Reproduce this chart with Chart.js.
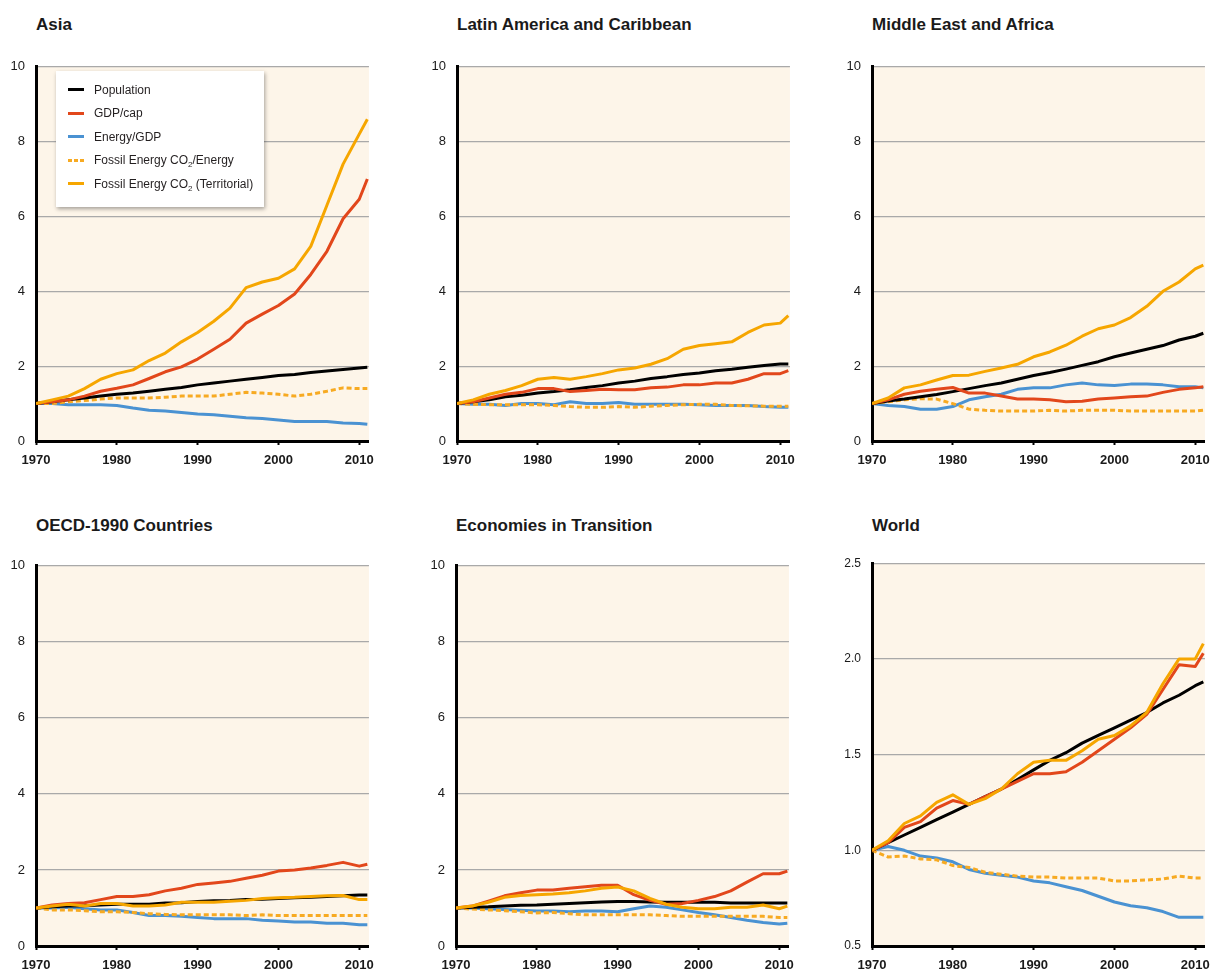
<!DOCTYPE html>
<html>
<head>
<meta charset="utf-8">
<title>Kaya decomposition by region</title>
<script src="https://cdn.jsdelivr.net/npm/chart.js@4.4.1/dist/chart.umd.min.js"></script>
<style>
  html, body { margin: 0; padding: 0; background: #fff; overflow: hidden; }
  body { width: 1213px; height: 972px; position: relative; font-family: "Liberation Sans", Arial, sans-serif; color: #1a1a1a; }
  .title { position: absolute; font-weight: bold; font-size: 17px; line-height: 20px; white-space: nowrap; }
  canvas { position: absolute; }
  #legend {
    position: absolute; left: 56px; top: 71px; width: 208px; height: 136px;
    background: #fff; box-shadow: 1px 2px 4px rgba(0,0,0,0.35);
    box-sizing: border-box; padding-top: 8px; font-size: 12px; color: #231f20;
  }
  #legend .item { height: 23.4px; line-height: 23.4px; padding-left: 12px; white-space: nowrap; }
  #legend .swatch { display: inline-block; width: 16px; height: 3px; vertical-align: middle; margin-right: 10px; position: relative; top: -1px; }
  #legend sub { font-size: 8px; line-height: 0; vertical-align: -3px; }
</style>
</head>
<body>
<div id="legend"></div>
<script>
// years on the x axis (2-year steps, last point 2011)
const years = [1970, 1972, 1974, 1976, 1978, 1980, 1982, 1984, 1986, 1988, 1990,
               1992, 1994, 1996, 1998, 2000, 2002, 2004, 2006, 2008, 2010, 2011];
const xTicks = [1970, 1980, 1990, 2000, 2010];

const seriesNames = ['Population', 'GDP/cap', 'Energy/GDP', 'Fossil Energy CO₂/Energy', 'Fossil Energy CO₂ (Territorial)'];
const legendLabels = ['Population', 'GDP/cap', 'Energy/GDP', 'Fossil Energy CO<sub>2</sub>/Energy', 'Fossil Energy CO<sub>2</sub> (Territorial)'];

// Asia
const asiaPop     = [1.0, 1.05, 1.1, 1.15, 1.2, 1.25, 1.28, 1.33, 1.38, 1.43, 1.5, 1.55, 1.6, 1.65, 1.7, 1.75, 1.78, 1.83, 1.87, 1.91, 1.95, 1.97];
const asiaGdp     = [1.0, 1.05, 1.1, 1.2, 1.33, 1.41, 1.5, 1.67, 1.85, 1.98, 2.19, 2.45, 2.72, 3.15, 3.39, 3.62, 3.93, 4.45, 5.07, 5.94, 6.46, 7.0];
const asiaEnergy  = [1.0, 1.0, 0.97, 0.97, 0.97, 0.95, 0.88, 0.82, 0.8, 0.76, 0.72, 0.7, 0.66, 0.62, 0.6, 0.56, 0.52, 0.52, 0.52, 0.48, 0.47, 0.45];
const asiaCarbInt = [1.0, 1.0, 1.05, 1.08, 1.12, 1.15, 1.15, 1.15, 1.17, 1.2, 1.2, 1.2, 1.25, 1.3, 1.28, 1.25, 1.2, 1.25, 1.33, 1.42, 1.4, 1.4];
const asiaCO2     = [1.0, 1.1, 1.2, 1.4, 1.65, 1.8, 1.9, 2.15, 2.35, 2.65, 2.9, 3.2, 3.55, 4.1, 4.25, 4.35, 4.6, 5.2, 6.3, 7.4, 8.2, 8.6];

// Latin America and Caribbean
const laPop     = [1.0, 1.05, 1.1, 1.18, 1.22, 1.28, 1.32, 1.37, 1.43, 1.48, 1.55, 1.6, 1.67, 1.72, 1.78, 1.82, 1.88, 1.92, 1.97, 2.02, 2.06, 2.06];
const laGdp     = [1.0, 1.05, 1.15, 1.25, 1.3, 1.4, 1.4, 1.32, 1.35, 1.38, 1.37, 1.37, 1.42, 1.44, 1.5, 1.5, 1.55, 1.55, 1.65, 1.8, 1.8, 1.88];
const laEnergy  = [1.0, 0.98, 0.98, 0.95, 1.0, 1.0, 0.97, 1.05, 1.0, 1.0, 1.03, 0.98, 0.98, 0.98, 0.98, 0.97, 0.95, 0.95, 0.95, 0.92, 0.9, 0.9];
const laCarbInt = [1.0, 0.98, 0.97, 0.97, 0.97, 0.97, 0.95, 0.92, 0.9, 0.9, 0.92, 0.9, 0.93, 0.95, 0.97, 0.98, 0.98, 0.95, 0.94, 0.93, 0.93, 0.93];
const laCO2     = [1.0, 1.1, 1.25, 1.35, 1.48, 1.65, 1.7, 1.65, 1.72, 1.8, 1.9, 1.95, 2.05, 2.2, 2.45, 2.55, 2.6, 2.65, 2.9, 3.1, 3.15, 3.35];

// Middle East and Africa
const meaPop     = [1.0, 1.07, 1.12, 1.18, 1.24, 1.32, 1.4, 1.48, 1.55, 1.65, 1.75, 1.83, 1.92, 2.02, 2.12, 2.25, 2.35, 2.45, 2.55, 2.7, 2.8, 2.88];
const meaGdp     = [1.0, 1.1, 1.25, 1.33, 1.38, 1.43, 1.28, 1.28, 1.2, 1.12, 1.12, 1.1, 1.05, 1.06, 1.12, 1.15, 1.18, 1.2, 1.3, 1.38, 1.42, 1.45];
const meaEnergy  = [1.0, 0.95, 0.92, 0.85, 0.85, 0.92, 1.1, 1.18, 1.25, 1.38, 1.42, 1.42, 1.5, 1.55, 1.5, 1.48, 1.52, 1.52, 1.5, 1.45, 1.45, 1.42];
const meaCarbInt = [1.0, 1.05, 1.1, 1.13, 1.12, 1.0, 0.85, 0.82, 0.8, 0.8, 0.8, 0.82, 0.8, 0.82, 0.82, 0.82, 0.8, 0.8, 0.8, 0.8, 0.8, 0.82];
const meaCO2     = [1.0, 1.15, 1.42, 1.5, 1.63, 1.75, 1.76, 1.86, 1.95, 2.05, 2.25, 2.38, 2.56, 2.8, 3.0, 3.1, 3.3, 3.6, 4.0, 4.25, 4.6, 4.7];

// OECD-1990 Countries
const oecdPop     = [1.0, 1.03, 1.05, 1.06, 1.08, 1.1, 1.1, 1.1, 1.13, 1.14, 1.17, 1.19, 1.2, 1.22, 1.23, 1.25, 1.27, 1.28, 1.3, 1.32, 1.34, 1.34];
const oecdGdp     = [1.0, 1.08, 1.12, 1.14, 1.22, 1.3, 1.3, 1.35, 1.45, 1.52, 1.62, 1.66, 1.7, 1.78, 1.86, 1.97, 2.0, 2.05, 2.12, 2.2, 2.1, 2.15];
const oecdEnergy  = [1.0, 1.0, 1.02, 0.98, 0.95, 0.95, 0.88, 0.8, 0.8, 0.78, 0.75, 0.72, 0.72, 0.72, 0.68, 0.66, 0.63, 0.63, 0.6, 0.6, 0.56, 0.56];
const oecdCarbInt = [1.0, 0.95, 0.95, 0.93, 0.9, 0.9, 0.88, 0.85, 0.83, 0.82, 0.82, 0.82, 0.82, 0.8, 0.82, 0.8, 0.8, 0.8, 0.8, 0.8, 0.8, 0.8];
const oecdCO2     = [1.0, 1.05, 1.1, 1.05, 1.12, 1.12, 1.05, 1.05, 1.08, 1.15, 1.15, 1.15, 1.18, 1.2, 1.25, 1.27, 1.28, 1.3, 1.32, 1.33, 1.22, 1.22];

// Economies in Transition
const eitPop     = [1.0, 1.02, 1.03, 1.05, 1.07, 1.08, 1.1, 1.12, 1.14, 1.16, 1.17, 1.17, 1.16, 1.15, 1.15, 1.15, 1.15, 1.13, 1.13, 1.13, 1.13, 1.13];
const eitGdp     = [1.0, 1.05, 1.18, 1.32, 1.4, 1.47, 1.47, 1.52, 1.56, 1.6, 1.6, 1.35, 1.2, 1.1, 1.12, 1.2, 1.3, 1.45, 1.68, 1.9, 1.9, 1.97];
const eitEnergy  = [1.0, 1.0, 0.98, 0.96, 0.94, 0.92, 0.92, 0.9, 0.92, 0.92, 0.9, 0.98, 1.05, 1.02, 0.95, 0.88, 0.82, 0.75, 0.68, 0.62, 0.58, 0.6];
const eitCarbInt = [1.0, 0.97, 0.95, 0.93, 0.9, 0.87, 0.88, 0.85, 0.82, 0.82, 0.82, 0.82, 0.82, 0.8, 0.78, 0.78, 0.78, 0.78, 0.78, 0.78, 0.75, 0.75];
const eitCO2     = [1.0, 1.05, 1.15, 1.28, 1.33, 1.35, 1.37, 1.4, 1.45, 1.52, 1.55, 1.45, 1.25, 1.1, 1.02, 0.98, 0.98, 1.02, 1.02, 1.08, 0.98, 1.05];

// World
const worldPop     = [1.0, 1.04, 1.08, 1.12, 1.16, 1.2, 1.24, 1.28, 1.32, 1.37, 1.42, 1.47, 1.51, 1.56, 1.6, 1.64, 1.68, 1.72, 1.77, 1.81, 1.86, 1.88];
const worldGdp     = [1.0, 1.04, 1.12, 1.15, 1.22, 1.26, 1.24, 1.28, 1.32, 1.36, 1.4, 1.4, 1.41, 1.46, 1.52, 1.58, 1.64, 1.71, 1.84, 1.97, 1.96, 2.03];
const worldEnergy  = [1.0, 1.02, 1.0, 0.97, 0.96, 0.94, 0.9, 0.88, 0.87, 0.86, 0.84, 0.83, 0.81, 0.79, 0.76, 0.73, 0.71, 0.7, 0.68, 0.65, 0.65, 0.65];
const worldCarbInt = [1.0, 0.965, 0.97, 0.955, 0.95, 0.92, 0.91, 0.885, 0.875, 0.865, 0.86, 0.86, 0.855, 0.855, 0.855, 0.84, 0.84, 0.845, 0.85, 0.865, 0.855, 0.855];
const worldCO2     = [1.0, 1.05, 1.14, 1.18, 1.25, 1.29, 1.24, 1.27, 1.32, 1.4, 1.46, 1.47, 1.47, 1.52, 1.58, 1.6, 1.65, 1.72, 1.87, 2.0, 2.0, 2.08];

// styles
const seriesColors = ['#000000', '#e2471b', '#4a92d2', '#f7aa22', '#f6a600'];
const drawOrder = [3, 2, 5, 4, 1];
const plotColor = '#fdf5e9';

// axisX / plotTop: pixel position of the plot's left axis and top edge
const panels = [
  { title: 'Asia', series: [asiaPop, asiaGdp, asiaEnergy, asiaCarbInt, asiaCO2], axisX: 36, plotTop: 58, plotH: 383, titleTop: 15 },
  { title: 'Latin America and Caribbean', series: [laPop, laGdp, laEnergy, laCarbInt, laCO2], axisX: 457, plotTop: 58, plotH: 383, titleTop: 15 },
  { title: 'Middle East and Africa', series: [meaPop, meaGdp, meaEnergy, meaCarbInt, meaCO2], axisX: 872, plotTop: 58, plotH: 383, titleTop: 15 },
  { title: 'OECD-1990 Countries', series: [oecdPop, oecdGdp, oecdEnergy, oecdCarbInt, oecdCO2], axisX: 36, plotTop: 557, plotH: 389, titleTop: 516 },
  { title: 'Economies in Transition', series: [eitPop, eitGdp, eitEnergy, eitCarbInt, eitCO2], axisX: 456, plotTop: 557, plotH: 389, titleTop: 516 },
  { title: 'World', series: [worldPop, worldGdp, worldEnergy, worldCarbInt, worldCO2], axisX: 872, plotTop: 555, plotH: 391, titleTop: 516,
    yMin: 0.5, yMax: 2.5, yStep: 0.5, yFont: 12 }
];

Chart.defaults.font.family = "'Liberation Sans', Arial, sans-serif";
Chart.defaults.color = '#1a1a1a';

const plotBg = {
  id: 'plotBg',
  beforeDraw(chart) {
    const a = chart.chartArea;
    const c = chart.ctx;
    c.save();
    c.fillStyle = plotColor;
    c.fillRect(a.left, a.top, a.right - a.left, a.bottom - a.top);
    c.restore();
  }
};

const PLOT_W = 336, Y_AXIS_W = 36, X_AXIS_H = 32, PAD_TOP = 10, PAD_RIGHT = 10;

function makePanel(p) {
  const t = document.createElement('div');
  t.className = 'title';
  t.textContent = p.title;
  t.style.left = p.axisX + 'px';
  t.style.top = p.titleTop + 'px';
  document.body.appendChild(t);

  const canvas = document.createElement('canvas');
  canvas.width = Y_AXIS_W + PLOT_W + PAD_RIGHT;
  canvas.height = PAD_TOP + p.plotH + X_AXIS_H;
  canvas.style.left = (p.axisX - Y_AXIS_W) + 'px';
  canvas.style.top = (p.plotTop - PAD_TOP) + 'px';
  document.body.appendChild(canvas);

  const datasets = p.series.map((vals, i) => ({
    label: seriesNames[i],
    data: years.map((yr, j) => ({ x: yr, y: vals[j] })),
    borderColor: seriesColors[i],
    backgroundColor: seriesColors[i],
    borderWidth: 3,
    borderDash: i === 3 ? [5, 3] : [],
    borderCapStyle: 'butt',
    borderJoinStyle: 'round',
    pointRadius: 0,
    tension: 0,
    order: drawOrder[i]
  }));

  const yMin = p.yMin !== undefined ? p.yMin : 0;
  const yMax = p.yMax !== undefined ? p.yMax : 10;
  const yStep = p.yStep || 2;

  new Chart(canvas.getContext('2d'), {
    type: 'line',
    data: { datasets },
    options: {
      responsive: false,
      animation: false,
      devicePixelRatio: 1,
      layout: { padding: { top: PAD_TOP, right: PAD_RIGHT, left: 0, bottom: 0 } },
      plugins: { legend: { display: false }, tooltip: { enabled: false } },
      scales: {
        x: {
          type: 'linear',
          min: 1970,
          max: 2011.2,
          afterBuildTicks: s => { s.ticks = xTicks.map(v => ({ value: v })); },
          afterFit: s => { s.height = X_AXIS_H; },
          ticks: {
            callback: v => String(v),
            font: { size: 13, weight: 'bold' },
            color: '#1a1a1a',
            padding: 8,
            maxRotation: 0,
            autoSkip: false
          },
          grid: { drawOnChartArea: false, drawTicks: true, tickLength: 4, tickColor: '#000', tickWidth: 2 },
          border: { display: true, color: '#000', width: 3 }
        },
        y: {
          min: yMin,
          max: yMax,
          afterFit: s => { s.width = Y_AXIS_W; },
          ticks: {
            stepSize: yStep,
            callback: v => yStep < 1 ? v.toFixed(1) : String(v),
            font: { size: p.yFont || 13 },
            color: '#1a1a1a',
            padding: 11
          },
          grid: { color: '#a9a9a9', lineWidth: 1.2, drawTicks: false },
          border: { display: true, color: '#000', width: 3 }
        }
      }
    },
    plugins: [plotBg]
  });
}

panels.forEach(makePanel);

// legend box inside the Asia panel
const legend = document.getElementById('legend');
legendLabels.forEach((lab, i) => {
  const item = document.createElement('div');
  item.className = 'item';
  const sw = document.createElement('span');
  sw.className = 'swatch';
  if (i === 3) {
    sw.style.background = `repeating-linear-gradient(90deg, ${seriesColors[i]} 0 4px, transparent 4px 6px)`;
  } else {
    sw.style.background = seriesColors[i];
  }
  item.appendChild(sw);
  const txt = document.createElement('span');
  txt.innerHTML = lab;
  item.appendChild(txt);
  legend.appendChild(item);
});
document.body.appendChild(legend);
</script>
</body>
</html>
